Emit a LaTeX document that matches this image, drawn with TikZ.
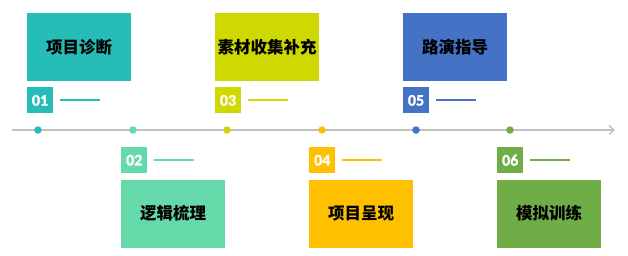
\documentclass[tikz,border=0pt]{standalone}
\usepackage{fontspec}
\newfontfamily\cjk{Noto Sans CJK SC}
\newfontfamily\numfont{Carlito Bold}[FakeBold=1.5]
\usepackage{xcolor}
\usetikzlibrary{arrows.meta, positioning}

\definecolor{stepA}{HTML}{26BDB9}
\definecolor{stepB}{HTML}{66D9AA}
\definecolor{stepC}{HTML}{CFD800}
\definecolor{stepD}{HTML}{FFC000}
\definecolor{stepE}{HTML}{4472C4}
\definecolor{stepF}{HTML}{70AD47}
\definecolor{axisgray}{HTML}{BFBFBF}

\begin{document}
\begin{tikzpicture}[
    x=1pt, y=-1pt,
    node distance=6pt,
    stage/.style={rectangle, fill=#1, minimum width=104pt, minimum height=68pt, inner sep=0pt, text centered, font=\cjk\bfseries\fontsize{16.5}{16.5}\selectfont},
    badge/.style={rectangle, fill=#1, minimum size=26pt, inner sep=0pt, text=white, font=\numfont\fontsize{16}{16}\selectfont},
    tick/.style={draw=#1, line width=2pt},
    dot/.style={circle, fill=#1, minimum size=7.5pt, inner sep=0pt},
    axis/.style={draw=axisgray, line width=1.3pt, -{Straight Barb[length=5pt, width=9pt]}}
]
\useasboundingbox (0,0) rectangle (628,255);

% Timeline
\coordinate (start) at (12,130);
\coordinate (end) at (615,130);
\draw [axis] (start) -- (end);

\node (d1) [dot=stepA] at (38,130) {};
\node (d2) [dot=stepB] at (133,130) {};
\node (d3) [dot=stepC] at (227,130) {};
\node (d4) [dot=stepD] at (322,130) {};
\node (d5) [dot=stepE] at (416,130) {};
\node (d6) [dot=stepF] at (510,130) {};

% Upper stages
\node (s1) [stage=stepA] at (79,47) {项目诊断};
\node (n1) [badge=stepA, below=of s1.south west, anchor=north west] {01};
\coordinate [right=7pt of n1] (t1);
\draw [tick=stepA] (t1) -- ++(40,0);

\node (s3) [stage=stepC] at (267,47) {素材收集补充};
\node (n3) [badge=stepC, below=of s3.south west, anchor=north west] {03};
\coordinate [right=7pt of n3] (t3);
\draw [tick=stepC] (t3) -- ++(40,0);

\node (s5) [stage=stepE] at (455,47) {路演指导};
\node (n5) [badge=stepE, below=of s5.south west, anchor=north west] {05};
\coordinate [right=7pt of n5] (t5);
\draw [tick=stepE] (t5) -- ++(40,0);

% Lower stages
\node (n2) [badge=stepB, anchor=north west] at (121,147) {02};
\coordinate [right=7pt of n2] (t2);
\draw [tick=stepB] (t2) -- ++(40,0);
\node (s2) [stage=stepB, below=of n2.south west, anchor=north west] {逻辑梳理};

\node (n4) [badge=stepD, anchor=north west] at (309,147) {04};
\coordinate [right=7pt of n4] (t4);
\draw [tick=stepD] (t4) -- ++(40,0);
\node (s4) [stage=stepD, below=of n4.south west, anchor=north west] {项目呈现};

\node (n6) [badge=stepF, anchor=north west] at (497,147) {06};
\coordinate [right=7pt of n6] (t6);
\draw [tick=stepF] (t6) -- ++(40,0);
\node (s6) [stage=stepF, below=of n6.south west, anchor=north west] {模拟训练};

\end{tikzpicture}
\end{document}
